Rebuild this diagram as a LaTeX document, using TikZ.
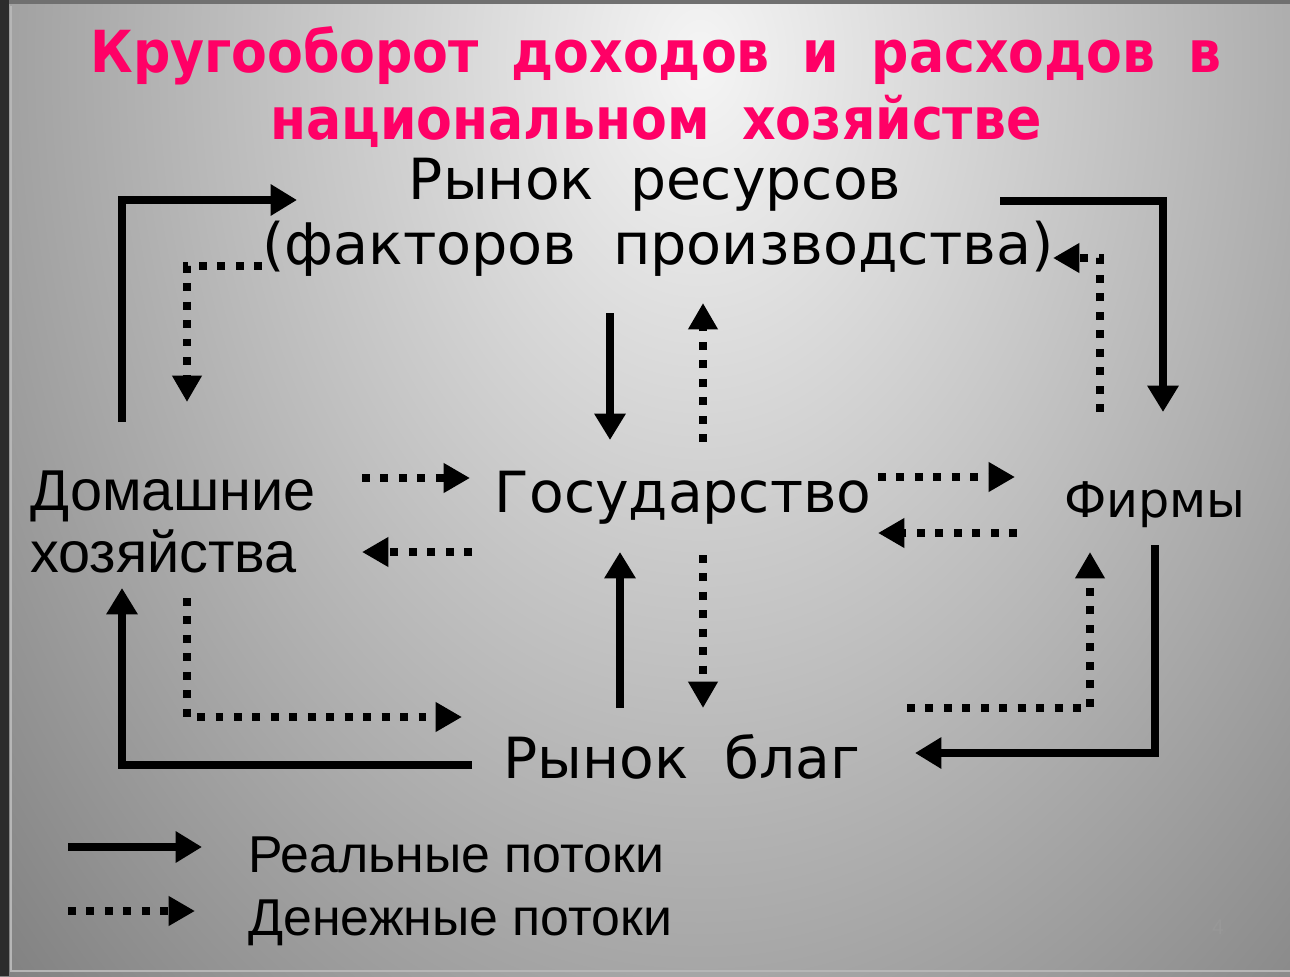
\documentclass[tikz,border=0pt]{standalone}
\usepackage{fontspec}
\setmainfont{DejaVu Sans}[WordSpace=2.0]
\newfontfamily\titlefont{DejaVu Sans Condensed Bold}[WordSpace=1.8]
\newfontfamily\arialfont{Liberation Sans}
\usetikzlibrary{arrows.meta}
\definecolor{titlepink}{RGB}{255,0,102}
\definecolor{bgin}{RGB}{245,245,245}
\definecolor{bgout}{RGB}{124,124,124}
\definecolor{framedark}{RGB}{44,44,44}
\definecolor{frametop}{RGB}{112,112,112}
\definecolor{framelight}{RGB}{182,182,182}
\definecolor{pagenum}{RGB}{152,152,152}

\begin{document}
\begin{tikzpicture}[x=0.02cm, y=-0.02cm,
  real/.style={line width=5pt, line join=miter, -{Triangle[length=15pt,width=17pt]}},
  money/.style={line width=4.5pt, dash pattern=on 4.5pt off 6pt, -{Triangle[length=15pt,width=16pt]}},
  lbl/.style={inner sep=0pt, anchor=base, font=\fontsize{32.3}{38}\selectfont},
  titlelbl/.style={inner sep=0pt, anchor=base, text=titlepink, font=\titlefont\fontsize{33}{38}\selectfont},
  hhlbl/.style={inner sep=0pt, anchor=base west, font=\arialfont\fontsize{32.8}{38}\selectfont},
  legendlbl/.style={inner sep=0pt, anchor=base west, font=\arialfont\fontsize{29.5}{34}\selectfont}]
\useasboundingbox (0,0) rectangle (1290,976);
% background
\begin{scope}
\clip (0,0) rectangle (1290,976);
\shade[inner color=bgin, outer color=bgout] (700,60) ellipse [x radius=1000, y radius=1400];
\end{scope}
\fill[frametop] (0,0) rectangle (1290,4);
\fill[framedark] (0,0) rectangle (9,976);
\draw[framelight, line width=0.8pt] (11,6) -- (11,971) -- (1290,971);

% title
\node[titlelbl] (title1) at (656,73) {Кругооборот доходов и расходов в};
\node[titlelbl] (title2) at (656,140) {национальном хозяйстве};

% labels
\node[lbl] (res1) at (655,200) {Рынок ресурсов};
\node[lbl, font=\fontsize{32.6}{38}\selectfont] (res2) at (658,265) {(факторов производства)};
\node[lbl] (gov) at (683,512) {Государство};
\node[lbl, font=\fontsize{28}{34}\selectfont] (firms) at (1155,517) {Фирмы};
\node[hhlbl] (hh1) at (30,510) {Домашние};
\node[hhlbl] (hh2) at (30,572) {хозяйства};
\node[lbl] (goods) at (682,778) {Рынок благ};
\node[legendlbl] (leg1) at (248,872) {Реальные потоки};
\node[legendlbl] (leg2) at (248,935) {Денежные потоки};
\node[inner sep=0pt, anchor=base, text=pagenum, font=\arialfont\fontsize{12}{14}\selectfont] (page) at (1218,934) {4};

% arrow ends
\coordinate (tl1) at (122,422);
\coordinate (tl2) at (122,200);
\coordinate (tl3) at (297,200);
\coordinate (tld1) at (262,266);
\coordinate (tld2) at (187,266);
\coordinate (tld3) at (187,402);
\coordinate (tr1) at (1000,201);
\coordinate (tr2) at (1163,201);
\coordinate (tr3) at (1163,412);
\coordinate (trd1) at (1100,412);
\coordinate (trd2) at (1100,258);
\coordinate (trd3) at (1053,258);
\coordinate (cu1) at (610,313);
\coordinate (cu2) at (610,440);
\coordinate (cud1) at (703,442);
\coordinate (cud2) at (703,303);
\coordinate (ml1) at (362,478);
\coordinate (ml2) at (470,478);
\coordinate (ml3) at (472,552);
\coordinate (ml4) at (362,552);
\coordinate (mr1) at (878,477);
\coordinate (mr2) at (1015,477);
\coordinate (mr3) at (1017,533);
\coordinate (mr4) at (878,533);
\coordinate (cl1) at (620,708);
\coordinate (cl2) at (620,552);
\coordinate (cld1) at (703,555);
\coordinate (cld2) at (703,708);
\coordinate (bl1) at (472,765);
\coordinate (bl2) at (122,765);
\coordinate (bl3) at (122,588);
\coordinate (bld1) at (187,598);
\coordinate (bld2) at (187,717);
\coordinate (bld3) at (462,717);
\coordinate (br1) at (1155,545);
\coordinate (br2) at (1155,753);
\coordinate (br3) at (915,753);
\coordinate (brd1) at (907,708);
\coordinate (brd2) at (1090,708);
\coordinate (brd3) at (1090,552);
\coordinate (lg1) at (68,847);
\coordinate (lg2) at (202,847);
\coordinate (lg3) at (68,911);
\coordinate (lg4) at (195,911);

% real flows
\draw[real] (tl1) -- (tl2) -- (tl3);
\draw[real] (tr1) -- (tr2) -- (tr3);
\draw[real] (cu1) -- (cu2);
\draw[real] (cl1) -- (cl2);
\draw[real] (bl1) -- (bl2) -- (bl3);
\draw[real] (br1) -- (br2) -- (br3);
\draw[real] (lg1) -- (lg2);

% money flows
\draw[money] (tld1) -- (tld2) -- (tld3);
\draw[money] (trd1) -- (trd2) -- (trd3);
\draw[money] (cud1) -- (cud2);
\draw[money] (ml1) -- (ml2);
\draw[money] (ml3) -- (ml4);
\draw[money] (mr1) -- (mr2);
\draw[money] (mr3) -- (mr4);
\draw[money] (cld1) -- (cld2);
\draw[money] (bld1) -- (bld2) -- (bld3);
\draw[money] (brd1) -- (brd2) -- (brd3);
\draw[money] (lg3) -- (lg4);

\end{tikzpicture}
\end{document}
